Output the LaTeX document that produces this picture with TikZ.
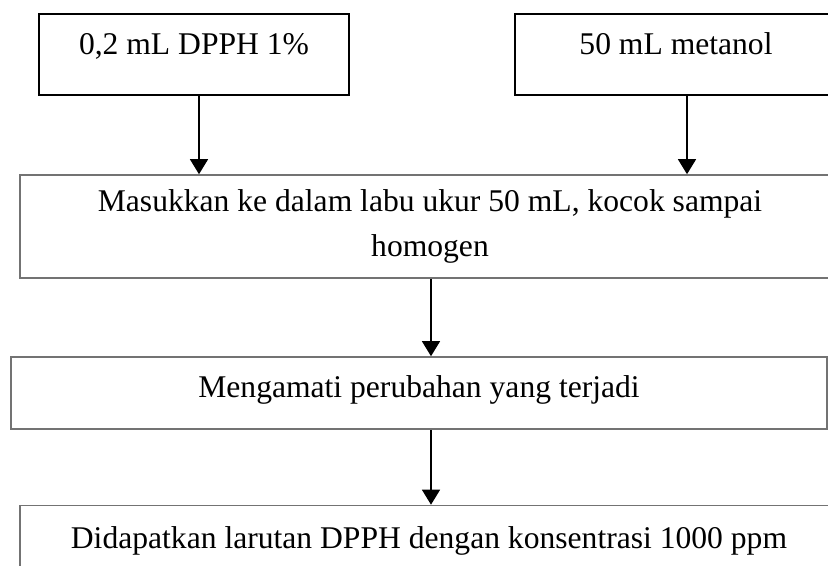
\documentclass[tikz,border=0pt]{standalone}
\usepackage{fontspec}
\setmainfont{Liberation Serif}
\usepackage{tikz}
\usetikzlibrary{arrows.meta}

\begin{document}
\begin{tikzpicture}[x=0.5pt, y=-0.5pt,
    every node/.style = {shape=rectangle, align=center, inner sep=0pt,
      font=\fontsize{15.8}{22.5}\selectfont},
    topbox/.style = {draw=black, line width=1pt},
    stepbox/.style = {draw=black!55, line width=0.8pt},
    flow/.style = {-{Triangle[width=9pt,length=7.5pt]}, line width=0.65pt}]
    \useasboundingbox (0,0) rectangle (828,566);
    \clip (0,0) rectangle (828,566);
    \node[topbox, minimum width=155pt, text height=20.5pt, text depth=20pt]
      (dpph) at (194,54.5) {0,2 mL DPPH 1\%};
    \node[topbox, minimum width=161pt, text height=20.5pt, text depth=20pt]
      (metanol) at (676,54.5) {50 mL metanol};
    \node[stepbox, minimum width=410pt, minimum height=51.5pt]
      (mix) at (430,226.5) {Masukkan ke dalam labu ukur 50 mL, kocok sampai\\homogen};
    \node[stepbox, minimum width=408pt, text height=20pt, text depth=16pt]
      (watch) at (419,393) {Mengamati perubahan yang terjadi};
    \node[stepbox, minimum width=409pt, text height=21.5pt, text depth=20pt]
      (result) at (429,547) {Didapatkan larutan DPPH dengan konsentrasi 1000 ppm};
    \draw[flow] ([xshift=2.5pt]dpph.south) -- ([xshift=2.5pt]dpph.south |- mix.north);
    \draw[flow] ([xshift=5.5pt]metanol.south) -- ([xshift=5.5pt]metanol.south |- mix.north);
    \draw[flow] ([xshift=0.5pt]mix.south) -- ([xshift=0.5pt]mix.south |- watch.north);
    \draw[flow] ([xshift=6pt]watch.south) -- ([xshift=6pt]watch.south |- result.north);
  \end{tikzpicture}
\end{document}
